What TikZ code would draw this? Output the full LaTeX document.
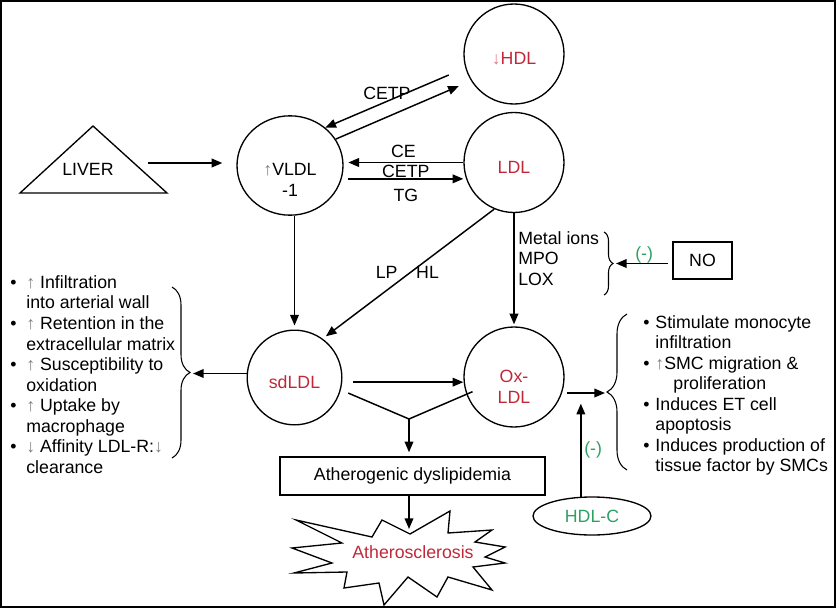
\documentclass[tikz,border=0pt]{standalone}
\usepackage{fontspec}
\setmainfont{Liberation Sans}
\usepackage{xcolor}
\usetikzlibrary{shapes.geometric, arrows.meta, decorations.pathreplacing}
\definecolor{ldlred}{RGB}{192,40,56}
\definecolor{inhgreen}{RGB}{45,160,100}
\definecolor{upgray}{RGB}{125,125,125}
\newcommand{\upar}{{\color{upgray}↑}}
\newcommand{\dnar}{{\color{upgray}↓}}
\tikzstyle{ball} = [circle, draw, line width=1pt, minimum size=75pt, inner sep=0pt, text height=16pt, text depth=0pt, text=ldlred]
\tikzstyle{oval} = [ellipse, draw, line width=1pt, inner sep=0pt]
\tikzstyle{frame} = [rectangle, draw, line width=1.1pt, inner sep=0pt]
\tikzstyle{arrow} = [line width=1.1pt, -{Triangle[length=8pt, width=6.5pt]}]
\tikzstyle{link} = [line width=1.1pt]
\tikzset{curly/.style={line width=0.8pt, decorate, decoration={brace, amplitude=#1}}}

\begin{document}
\begin{tikzpicture}[x=0.75pt, y=-0.75pt, font=\fontsize{13.3}{15.4}\selectfont]
    \useasboundingbox (0,0) rectangle (836,610);
    \draw[line width=1.5pt] (1,1) rectangle (835,607);

    % lipoproteins
    \draw[line width=1pt] (20,193) -- (93,126) -- (167,193) -- cycle;
    \node(liver) at (88,169){LIVER};
    \node(vldl)[oval, minimum width=79.5pt, minimum height=74.5pt] at (290,165.5){};
    \node(vldlTxt)[align=center] at (290,180){\upar VLDL\\-1};
    \node(hdl)[ball] at (514,54){{\color{ldlred!60}↓}HDL};
    \node(ldl)[ball] at (514,162.5){LDL};
    \node(sdldl)[ball, minimum size=71pt] at (294.5,377.5){sdLDL};
    \node(oxldl)[ball] at (514,377){};
    \node(oxldlTxt)[align=center, text=ldlred] at (514,387){Ox-\\LDL};
    \node(ox)[align=left, anchor=west, inner sep=0pt] at (518,258.4){Metal ions\\MPO\\LOX};
    \node(no)[frame, minimum width=44.25pt, minimum height=27.75pt] at (702.5,260.5){NO};
    \node(dys)[frame, minimum width=198.75pt, minimum height=28.5pt] at (412.5,476){Atherogenic dyslipidemia};
    \node(hdlC)[oval, minimum width=88.5pt, minimum height=28.5pt, text=inhgreen] at (592,516){HDL-C};

    % effects
    \node(effL)[anchor=west, inner sep=0pt] at (10,376.7){%
      \begin{tabular}{@{}c@{\hspace{7.4pt}}l@{}}
        • & \upar{} Infiltration\\
          & into arterial wall\\
        • & \upar{} Retention in the\\
          & extracellular matrix\\
        • & \upar{} Susceptibility to\\
          & oxidation\\
        • & \upar{} Uptake by\\
          & macrophage\\
        • & \dnar{} Affinity LDL-R:\dnar\\
          & clearance
      \end{tabular}};
    \node(effR)[anchor=west, inner sep=0pt] at (643,396){%
      \begin{tabular}{@{}c@{\hspace{4.5pt}}l@{}}
        • & Stimulate monocyte\\
          & infiltration\\
        • & \upar SMC migration \&\\
          & \hspace*{13.5pt}proliferation\\
        • & Induces ET cell\\
          & apoptosis\\
        • & Induces production of\\
          & tissue factor by SMCs
      \end{tabular}};

    % starburst
    \draw[line width=1pt] (296,520) -- (372,537) -- (382,520) -- (410,534) -- (450,511) -- (448,533)
        -- (492,530) -- (475,542) -- (505,547) -- (485,557) -- (505,563) -- (473,567) -- (492,590)
        -- (448,577) -- (437,597) -- (408,577) -- (384,605) -- (379,583) -- (344,588) -- (347,572)
        -- (294,573) -- (332,563) -- (292,548) -- (342,543) -- cycle;
    \node(ath)[text=ldlred] at (413,552){Atherosclerosis};

    % connectors
    \coordinate (livr) at (148,163);
    \coordinate (jn) at (409,419);
    \coordinate (athTop) at (409,529);
    \coordinate (lbr) at (193,373.5);
    \coordinate (rbr) at (605,393);
    \coordinate (mbr) at (616,263.5);
    \draw[arrow, shorten >=10.5pt] (livr) -- (livr -| vldl.west);
    \draw[arrow, shorten <=13.5pt] (hdl.196) -- node[pos=.56, anchor=south, inner sep=1pt]{CETP} (vldl.47);
    \draw[arrow, shorten >=10pt] (vldl.30) -- (hdl.212);
    \draw[arrow, shorten >=3.5pt] (ldl.west) -- node[above]{CE} (ldl.west -| vldl.east);
    \draw[arrow] ([xshift=3.5pt, yshift=-10pt]vldl.east) -- node[anchor=south, inner sep=0pt]{CETP}
        node[below=7pt, inner sep=0pt]{TG} ([yshift=-10pt]vldl.east -| ldl.west);
    \draw[arrow, shorten >=3pt] (vldl.south -| sdldl.north) -- (sdldl.north);
    \draw[arrow, shorten >=3pt] (ldl.247) -- node[pos=.49, anchor=east, xshift=-9pt, inner sep=0pt]{LP}
        node[pos=.49, anchor=west, xshift=4pt, inner sep=0pt]{HL} (sdldl.54);
    \draw[arrow, shorten >=1.5pt] (ldl.south) -- (oxldl.north);
    \draw[arrow] ([xshift=8pt, yshift=-3.5pt]sdldl.east) -- ([yshift=-3.5pt]sdldl.east -| oxldl.west);
    \draw[link, shorten <=6pt] (sdldl.-15) -- (jn);
    \draw[link, shorten <=-5pt] (oxldl.200) -- (jn);
    \draw[arrow, shorten >=3pt] (jn) -- (jn |- dys.north);
    \draw[arrow] (jn |- dys.south) -- (athTop);
    \draw[arrow] (sdldl.west |- lbr) -- (lbr);
    \draw[arrow, shorten <=2pt] (oxldl.east |- rbr) -- (rbr);
    \draw[arrow] (hdlC.120) -- node[right, inner sep=2pt, text=inhgreen]{(-)} ++(0,-93);
    \draw[arrow, shorten <=3.5pt] (no.west |- mbr) -- node[anchor=south, inner sep=0pt, text=inhgreen]{(-)} (mbr);

    % braces
    \draw[curly=13.5pt] (172,287) -- (172,458);
    \draw[curly=15pt] (627,470) -- (627,314);
    \draw[curly=6.75pt] (604,232) -- (604,295);
\end{tikzpicture}
\end{document}
